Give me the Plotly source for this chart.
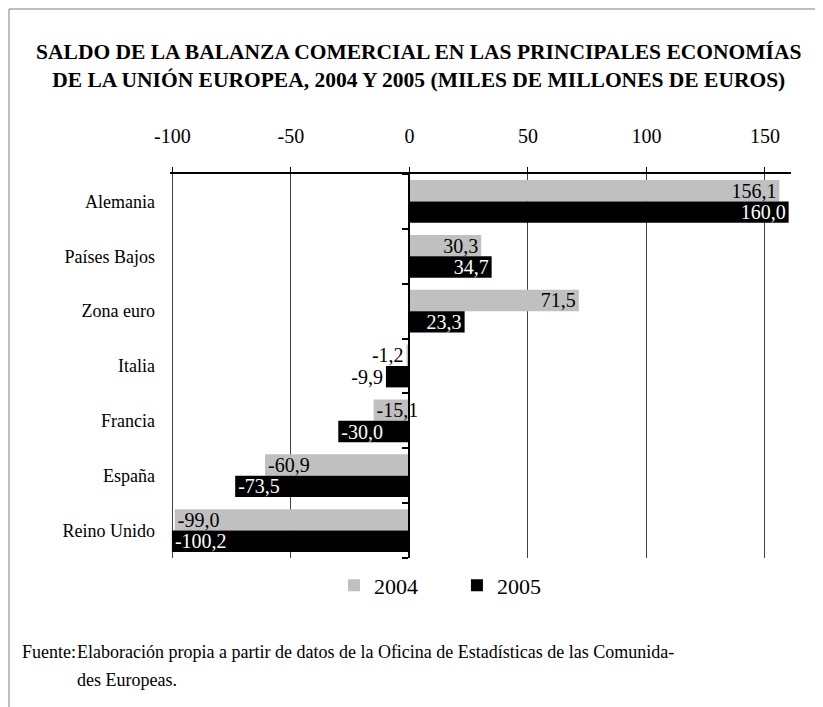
import plotly.graph_objects as go

# --- data -------------------------------------------------------------------
countries = [
    "Alemania",
    "Países Bajos",
    "Zona euro",
    "Italia",
    "Francia",
    "España",
    "Reino Unido",
]
saldo_2004 = [156.1, 30.3, 71.5, -1.2, -15.1, -60.9, -99.0]
saldo_2005 = [160.0, 34.7, 23.3, -9.9, -30.0, -73.5, -100.2]
x_ticks = [-100, -50, 0, 50, 100, 150]

title_text = (
    "<b>SALDO DE LA BALANZA COMERCIAL EN LAS PRINCIPALES ECONOMÍAS<br>"
    "DE LA UNIÓN EUROPEA, 2004 Y 2005 (MILES DE MILLONES DE EUROS)</b>"
)
source_label = "Fuente:"
source_lines = [
    "Elaboración propia a partir de datos de la Oficina de Estadísticas de las Comunida-",
    "des Europeas.",
]

FONT = "Liberation Serif"
X_RANGE = [-101, 161]
# fraction of the plot width where x = 0 sits
zero_pos = (0 - X_RANGE[0]) / (X_RANGE[1] - X_RANGE[0])


def fmt(v):
    return f"{v:.1f}".replace(".", ",")


def text_pos(values):
    # tiny bars get their label outside, like the source chart
    return ["outside" if abs(v) < 12 else "inside" for v in values]


fig = go.Figure()

fig.add_trace(
    go.Bar(
        y=countries,
        x=saldo_2004,
        orientation="h",
        name="2004",
        marker=dict(color="#c0c0c0", line=dict(width=0)),
        text=[fmt(v) for v in saldo_2004],
        textposition=text_pos(saldo_2004),
        insidetextanchor="end",
        textangle=0,
        constraintext="none",
        insidetextfont=dict(family=FONT, size=20, color="black"),
        outsidetextfont=dict(family=FONT, size=20, color="black"),
        cliponaxis=False,
    )
)
fig.add_trace(
    go.Bar(
        y=countries,
        x=saldo_2005,
        orientation="h",
        name="2005",
        marker=dict(color="black", line=dict(width=0)),
        text=[fmt(v) for v in saldo_2005],
        textposition=text_pos(saldo_2005),
        insidetextanchor="end",
        textangle=0,
        constraintext="none",
        insidetextfont=dict(family=FONT, size=20, color="white"),
        outsidetextfont=dict(family=FONT, size=20, color="black"),
        cliponaxis=False,
    )
)

# invisible helper so the zero-line axis (y2) gets drawn
fig.add_trace(
    go.Scatter(
        x=[0],
        y=[0],
        yaxis="y2",
        mode="markers",
        marker=dict(opacity=0),
        showlegend=False,
        hoverinfo="skip",
    )
)

# the page body adds an 8px offset, so the figure is 8px smaller
fig.update_layout(
    width=815,
    height=699,
    paper_bgcolor="white",
    plot_bgcolor="white",
    font=dict(family=FONT, size=18, color="black"),
    title=dict(
        text=title_text,
        x=0.504,
        xanchor="center",
        y=0.927,
        yanchor="middle",
        font=dict(family=FONT, size=21.5, color="black"),
    ),
    barmode="group",
    bargap=0.22,
    bargroupgap=0,
    margin=dict(l=162, r=32, t=166, b=149),
    xaxis=dict(
        side="top",
        range=X_RANGE,
        tickvals=x_ticks,
        ticktext=[str(t) for t in x_ticks],
        tickfont=dict(family=FONT, size=20),
        ticks="outside",
        ticklen=5,
        tickcolor="black",
        ticklabelstandoff=16,
        showline=True,
        linecolor="black",
        linewidth=2,
        showgrid=True,
        gridcolor="#404040",
        gridwidth=1,
        zeroline=False,
        fixedrange=True,
    ),
    yaxis=dict(
        type="category",
        categoryorder="array",
        categoryarray=countries,
        range=[6.5, -0.5],
        showline=False,
        showgrid=False,
        zeroline=False,
        ticks="",
        ticklabelstandoff=14,
        tickfont=dict(family=FONT, size=18),
        fixedrange=True,
    ),
    yaxis2=dict(
        overlaying="y",
        anchor="free",
        position=zero_pos,
        range=[6.5, -0.5],
        tickvals=[i - 0.5 for i in range(len(countries) + 1)],
        showticklabels=False,
        ticks="outside",
        ticklen=6,
        tickcolor="black",
        tickwidth=2,
        showline=True,
        linecolor="black",
        linewidth=2,
        showgrid=False,
        zeroline=False,
        fixedrange=True,
    ),
    legend=dict(
        orientation="h",
        x=0.264,
        xanchor="left",
        y=-0.017,
        yanchor="top",
        font=dict(family=FONT, size=22),
        entrywidth=78,
        entrywidthmode="pixels",
        itemclick=False,
        traceorder="normal",
    ),
    showlegend=True,
)

# source note
fig.add_annotation(
    text=source_label,
    xref="paper",
    yref="paper",
    x=-0.242,
    y=-0.245,
    xanchor="left",
    yanchor="middle",
    showarrow=False,
    font=dict(family=FONT, size=18),
)
for i, line in enumerate(source_lines):
    fig.add_annotation(
        text=line,
        xref="paper",
        yref="paper",
        x=-0.153,
        y=-0.245 - i * 0.073,
        xanchor="left",
        yanchor="middle",
        align="left",
        showarrow=False,
        font=dict(family=FONT, size=18),
    )

# frame lines (top and left) of the original figure box
fig.add_shape(
    type="line", xref="paper", yref="paper",
    x0=-0.2593, x1=1.06, y0=1.4297, y1=1.4297,
    line=dict(color="#808080", width=1),
)
fig.add_shape(
    type="line", xref="paper", yref="paper",
    x0=-0.2593, x1=-0.2593, y0=1.4297, y1=-0.40,
    line=dict(color="#808080", width=1),
)

fig.write_html("out.html")
